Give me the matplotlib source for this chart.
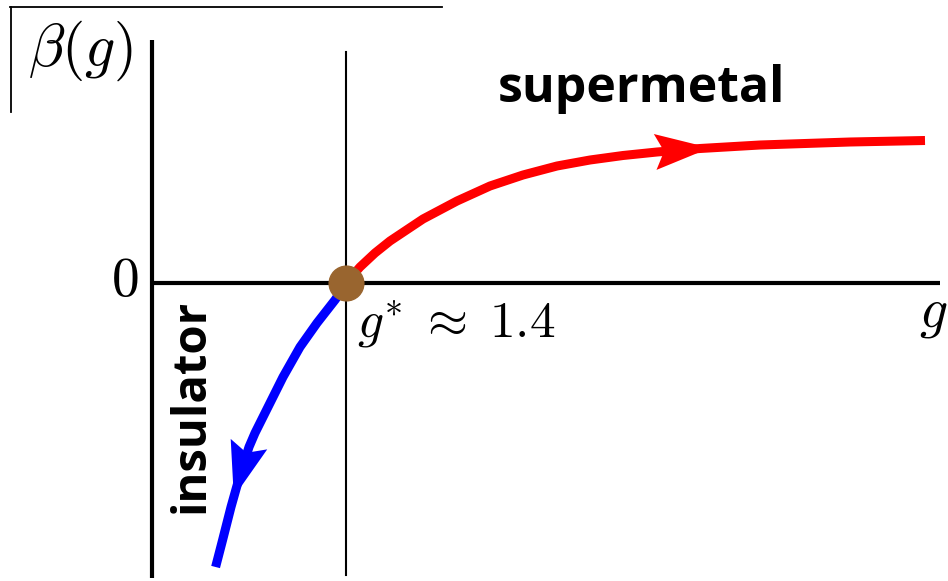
import numpy as np
import matplotlib.pyplot as plt
from matplotlib.patches import Polygon

plt.rcParams["mathtext.fontset"] = "cm"

g_metal = [1.40, 1.47, 1.545, 1.62, 1.785, 1.955, 2.12, 2.285, 2.455, 2.62,
           2.785, 2.955, 3.17, 3.47, 3.92, 4.295]
beta_metal = [0.0, 0.16, 0.30, 0.42, 0.64, 0.82, 0.97, 1.08, 1.17, 1.23,
              1.275, 1.31, 1.345, 1.38, 1.41, 1.425]

g_insul = [1.40, 1.38, 1.345, 1.255, 1.17, 1.085, 1.02, 0.945, 0.915, 0.863,
           0.825, 0.783, 0.748]
beta_insul = [0.0, -0.07, -0.17, -0.40, -0.64, -0.94, -1.20, -1.50, -1.64,
              -1.97, -2.24, -2.57, -2.84]

g_star = 1.4
star_label = r"$g^{*}\;\approx\;1.4$"

fig = plt.figure(figsize=(9.48, 5.81), dpi=100)
ax = fig.add_axes([0, 0, 1, 1])
ax.set_xlim(-0.33, 4.41)
ax.set_ylim(-2.98, 2.83)
ax.axis("off")

# axes and the vertical marker through the fixed point
ax.plot([0.43, 0.43], [-2.95, 2.43], color="black", lw=3.0, solid_capstyle="butt")
ax.plot([0.43, 4.37], [0, 0], color="black", lw=3.0, solid_capstyle="butt")
ax.plot([g_star, g_star], [-2.92, 2.31], color="black", lw=1.5)

# frame piece around the label
ax.plot([-0.28, 1.88], [2.76, 2.76], color="black", lw=1.3)
ax.plot([-0.275, -0.275], [1.71, 2.76], color="black", lw=1.3)

ax.plot(g_metal, beta_metal, color="#ff0000", lw=6.5, solid_capstyle="butt",
        solid_joinstyle="round", zorder=3)
ax.plot(g_insul, beta_insul, color="#0000ff", lw=6.5, solid_capstyle="butt",
        solid_joinstyle="round", zorder=3)
ax.plot([g_star], [0], "o", color="#99652f", ms=25, zorder=5)


def arrow_head(gx, by, g_back, b_back, color, length=55, width=36, notch=9):
    # stealth-style head drawn in pixels, pointing from (g_back, b_back) to (gx, by)
    tip = ax.transData.transform((gx, by))
    back = ax.transData.transform((g_back, b_back))
    d = tip - back
    d = d / np.hypot(*d)
    n = np.array([-d[1], d[0]])
    base = tip - d * length
    pts = [tip, base + n * width / 2, base + d * notch, base - n * width / 2]
    pts = ax.transData.inverted().transform(np.array(pts))
    ax.add_patch(Polygon(pts, closed=True, color=color, lw=0, zorder=4))


tip_g = 3.22
tip_b = np.interp(tip_g, g_metal, beta_metal)
arrow_head(tip_g, tip_b, tip_g - 0.15, np.interp(tip_g - 0.15, g_metal, beta_metal), "#ff0000")

tip_b2 = -2.14
tip_g2 = np.interp(tip_b2, beta_insul[::-1], g_insul[::-1])
arrow_head(tip_g2, tip_b2, np.interp(tip_b2 + 0.2, beta_insul[::-1], g_insul[::-1]),
           tip_b2 + 0.2, "#0000ff", width=38)

ax.text(-0.19, 2.17, r"$\beta(g)$", fontsize=43, ha="left", va="baseline")
ax.text(0.2925, 0.02, r"$0$", fontsize=40, ha="center", va="center")
ax.text(4.405, -0.43, r"$g$", fontsize=40, ha="right", va="baseline")
ax.text(1.455, -0.55, star_label, fontsize=37, ha="left", va="baseline")
ax.text(2.16, 1.81, "supermetal", fontsize=36, fontweight="bold",
        family="Open Sans", ha="left", va="baseline")
ax.text(0.625, -1.23, "insulator", fontsize=34, fontweight="bold",
        family="Open Sans", rotation=90, ha="center", va="center")

fig.savefig("out.png", dpi=100)
